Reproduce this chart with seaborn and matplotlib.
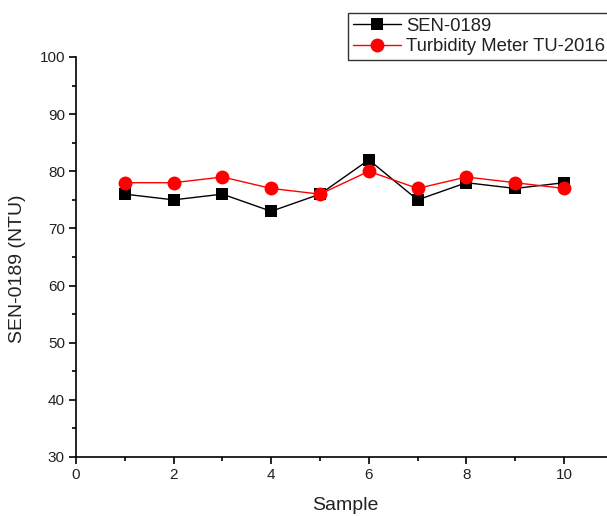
import matplotlib
matplotlib.use("Agg")
import matplotlib.pyplot as plt
import seaborn as sns
import pandas as pd
from matplotlib.ticker import MultipleLocator

samples = [1, 2, 3, 4, 5, 6, 7, 8, 9, 10]
sen0189 = [76, 75, 76, 73, 76, 82, 75, 78, 77, 78]
tu2016 = [78, 78, 79, 77, 76, 80, 77, 79, 78, 77]

sns.set_theme(style="ticks")
plt.rcParams['font.family'] = ['Liberation Sans', 'DejaVu Sans']

df = pd.DataFrame({"Sample": samples, "SEN": sen0189, "TU": tu2016})

W, H = 607, 516
fig = plt.figure(figsize=(W/100, H/100), dpi=100)
ax = fig.add_axes([76/W, 1-457/H, (607-76)/W, 400/H])

sns.lineplot(data=df, x="Sample", y="SEN", ax=ax, color="black", lw=1,
             marker="s", markersize=8.5, markeredgewidth=0, label="SEN-0189")
sns.lineplot(data=df, x="Sample", y="TU", ax=ax, color="red", lw=1,
             marker="o", markersize=10, markeredgewidth=0, label="Turbidity Meter TU-2016")

ax.set_xlim(0, (607-76)/48.8)
ax.set_ylim(30, 100)
ax.set_xticks([0, 2, 4, 6, 8, 10])
ax.set_yticks([30, 40, 50, 60, 70, 80, 90, 100])
ax.xaxis.set_minor_locator(MultipleLocator(1))
ax.yaxis.set_minor_locator(MultipleLocator(5))
ax.tick_params(axis='both', which='major', direction='out', length=5, width=1.2,
               labelsize=11, color='black', labelcolor='#222222', pad=3)
ax.tick_params(axis='both', which='minor', direction='out', length=3, width=1.2, color='black')
for s in ['top', 'right']:
    ax.spines[s].set_visible(False)
for s in ['left', 'bottom']:
    ax.spines[s].set_linewidth(1.2)
    ax.spines[s].set_color('black')

ax.set_xlabel("Sample", fontsize=14, color='#222222')
ax.set_ylabel("SEN-0189 (NTU)", fontsize=14, color='#222222')
ax.xaxis.set_label_coords((345-76)/(607-76), -(506-457)/400)
ax.yaxis.set_label_coords(-(76-18)/(607-76), (457-269)/400)
ax.xaxis.label.set_va('center')
ax.yaxis.label.set_va('center')

leg = ax.legend(loc='upper left', bbox_to_anchor=(348/W, 1-13/H), bbox_transform=fig.transFigure,
                frameon=True, fancybox=False, fontsize=13.3, handlelength=2.6,
                borderpad=0.25, labelspacing=0.2, handletextpad=0.3, borderaxespad=0)
leg.get_frame().set_edgecolor('black')
leg.get_frame().set_linewidth(1)
for t in leg.get_texts():
    t.set_color('#222222')

fig.savefig("out.png", dpi=100)
